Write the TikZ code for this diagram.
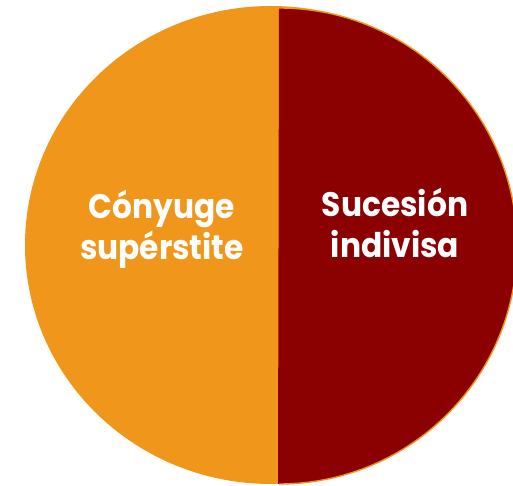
\documentclass[tikz,border=0pt]{standalone}
\usepackage{fontspec}
\setmainfont{Poppins}[FakeStretch=0.92]
\definecolor{pieorange}{HTML}{F0961A}
\definecolor{piered}{HTML}{8B0000}
\begin{document}
\begin{tikzpicture}[x=1pt,y=1pt,
  slicelabel/.style={text=white,font=\fontsize{34}{41}\selectfont\bfseries,align=center,inner sep=0pt}]
\useasboundingbox (0,0) rectangle (513,486);
% orange slice (full ellipse underneath)
\fill[pieorange] (271,241) ellipse[x radius=246, y radius=239];
% dark red slice
\fill[piered] (279,478) arc[start angle=90,end angle=-90,radius=238] -- (278,2) -- cycle;
\draw[pieorange,line width=1.4pt] (279,478) arc[start angle=90,end angle=-90,radius=238];
\node[slicelabel] (cony) at (162,257) {Cónyuge\\supérstite};
\node[slicelabel] (suc) at (395,263) {Sucesión\\indivisa};
\end{tikzpicture}
\end{document}
